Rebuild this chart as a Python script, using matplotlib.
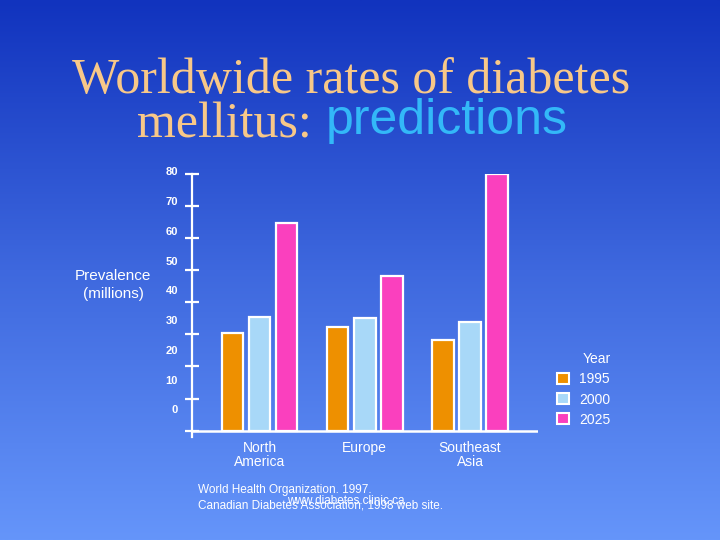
import numpy as np
import matplotlib
matplotlib.use("Agg")
import matplotlib.pyplot as plt
from matplotlib.colors import LinearSegmentedColormap
from matplotlib.patches import Patch

# ---- data ----
categories = ["North\nAmerica", "Europe", "Southeast\nAsia"]
years = ["1995", "2000", "2025"]
prev_1995 = [30.5, 32.2, 28.1]
prev_2000 = [35.3, 35.0, 34.0]
prev_2025 = [64.8, 48.1, 80.0]
yticks = [0, 10, 20, 30, 40, 50, 60, 70, 80]
ytick_labels = ["0", "10", "20", "30", "40", "50", "60", "70", "80"]

series = [prev_1995, prev_2000, prev_2025]
colors = ["#EE9000", "#A8D8F8", "#FA40BE"]

W, H = 720, 540
fig = plt.figure(figsize=(W / 100, H / 100), dpi=100)

def fx(px):
    return px / W

def fy(py):
    return 1 - py / H

# gradient background
bg = fig.add_axes([0, 0, 1, 1], zorder=-10)
cmap = LinearSegmentedColormap.from_list("bg", ["#1133BE", "#3E68DE", "#6595FA"])
grad = np.linspace(0, 1, 256).reshape(-1, 1)
bg.imshow(grad, aspect="auto", cmap=cmap, extent=[0, 1, 0, 1], origin="upper")
bg.axis("off")

# title
fig.text(fx(72), fy(93), "Worldwide rates of diabetes", family="Liberation Serif",
         fontsize=36, color="#F8C888", ha="left", va="baseline")
fig.text(fx(137), fy(138), "mellitus:", family="Liberation Serif",
         fontsize=36, color="#F8C888", ha="left", va="baseline")
fig.text(fx(326), fy(134), "predictions", family="Liberation Sans",
         fontsize=36, color="#33B8F8", ha="left", va="baseline")

# chart axes
left_px, right_px, top_px, bot_px = 192, 538, 174, 437
ax = fig.add_axes([fx(left_px), fy(bot_px), (right_px - left_px) / W, (bot_px - top_px) / H])
ax.set_facecolor("none")
ymin, ymax = -2, 80
ax.set_ylim(ymin, ymax)
grp_sp = 105.25
x0_px = 259.5
ax.set_xlim((left_px - x0_px) / grp_sp, (right_px - x0_px) / grp_sp)

x = np.arange(len(categories))
offsets = [-0.257, 0.0, 0.257]
bw = 0.205
for vals, off, c, lab in zip(series, offsets, colors, years):
    ax.bar(x + off, vals, width=bw, color=c, edgecolor="white", linewidth=1.6, label=lab, zorder=3)

for s in ["top", "right", "bottom"]:
    ax.spines[s].set_visible(False)
ax.spines["left"].set_color("white")
ax.spines["left"].set_linewidth(1.6)
ax.set_yticks(yticks)
ax.tick_params(axis="y", direction="inout", length=10, width=1.6, color="white", labelleft=False)
ax.axhline(0, color="white", lw=1.8, zorder=4)

# y tick labels (offset as in the reference)
for v, t in zip(yticks, ytick_labels):
    ypos = 6.3 + v * (74.2 / 80)
    ax.annotate(t, xy=(0, ypos), xycoords=("axes fraction", "data"), xytext=(-10, 0),
                textcoords="offset points", ha="right", va="center", color="white",
                fontsize=8, fontweight="bold", family="Liberation Sans", annotation_clip=False)

ax.set_xticks(x)
ax.set_xticklabels(categories, color="white", fontsize=10, family="Liberation Sans")
ax.tick_params(axis="x", length=0, pad=3)
for t in ax.get_xticklabels():
    t.set_linespacing(1.0)

# y label
fig.text(fx(113), fy(285), "Prevalence\n(millions)", color="white", fontsize=11,
         family="Liberation Sans", ha="center", va="center", linespacing=1.3)

# legend
handles = [Patch(facecolor=c, edgecolor="white", linewidth=1.5, label=y) for c, y in zip(colors, years)]
leg = fig.legend(handles=handles, title="Year", loc="upper left",
                 bbox_to_anchor=(fx(557), fy(352)), frameon=False, borderpad=0,
                 borderaxespad=0, handlelength=0.85, handleheight=0.85, handletextpad=0.75,
                 labelspacing=0.45, alignment="right",
                 prop={"family": "Liberation Sans", "size": 10},
                 title_fontproperties={"family": "Liberation Sans", "size": 10})
for t in leg.get_texts():
    t.set_color("white")
leg.get_title().set_color("white")

# source notes
fig.text(fx(198), fy(490), "World Health Organization. 1997.", color="white", fontsize=8.5,
         family="Liberation Sans", ha="left", va="center")
fig.text(fx(198), fy(505), "Canadian Diabetes Association, 1998 web site.", color="white",
         fontsize=8.5, family="Liberation Sans", ha="left", va="center")
fig.text(fx(287), fy(501), "www.diabetes.clinic.ca", color="white", fontsize=8.5,
         family="Liberation Sans", ha="left", va="center")

fig.savefig("out.png", dpi=100)
